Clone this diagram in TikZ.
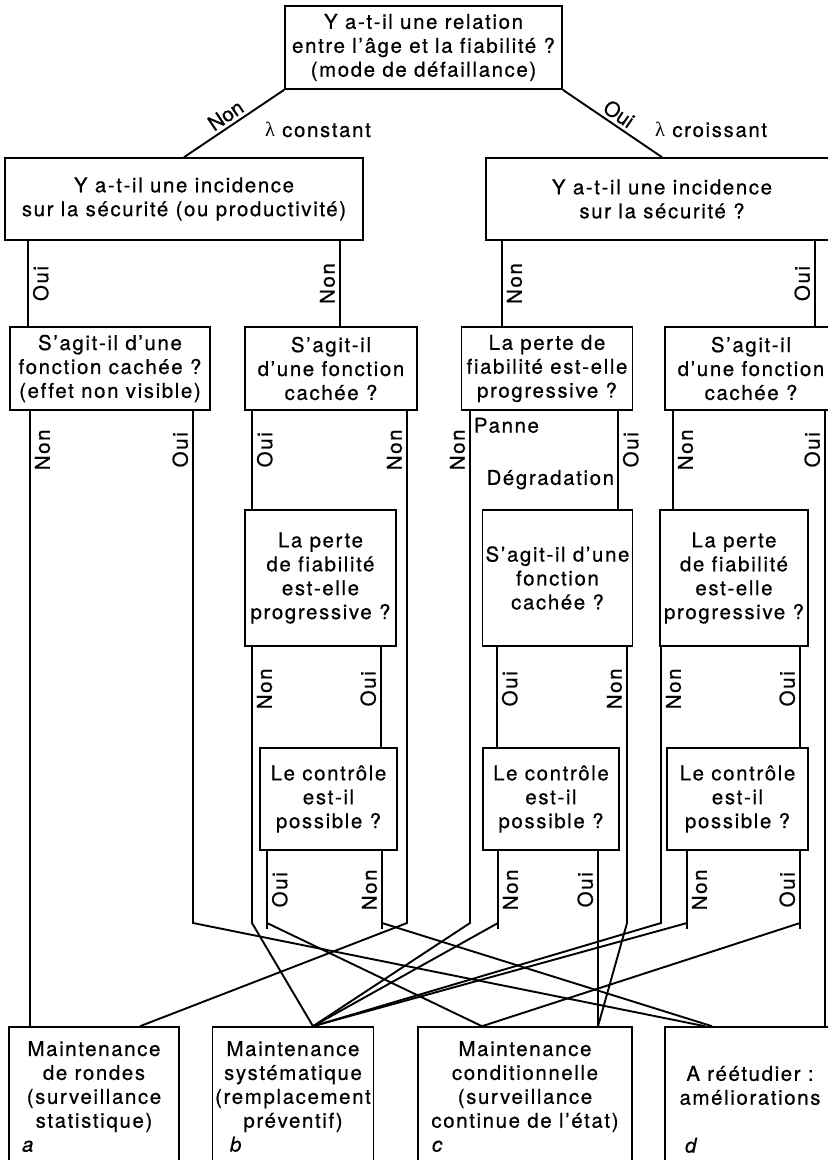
\documentclass[tikz,border=0pt]{standalone}
\usepackage{fontspec}
\setmainfont[LetterSpace=8,Ligatures=NoCommon,FakeBold=0.6]{TeX Gyre Heros}
\newfontfamily\grec{Liberation Serif}
\newfontfamily\penche[FakeBold=0.6]{TeX Gyre Heros}
\usepackage{tikz}

\newcommand{\lettre}[2]{\makebox[#1][l]{\itshape #2}}

\begin{document}
\begin{tikzpicture}[x=1bp, y=-1bp, line width=1.9bp,
  every node/.style={font=\fontsize{20.5}{24}\selectfont},
  boite/.style={draw, line width=1.6bp, align=center, inner sep=0pt},
  etiqD/.style={rotate=90, anchor=north, inner sep=4bp},
  etiqG/.style={rotate=90, anchor=south, inner sep=4bp},
  etiqP/.style={sloped, above, inner sep=3bp, font=\fontsize{20.5}{24}\penche}]
\useasboundingbox (0,0) rectangle (828,1160);
\clip (0,0) rectangle (828,1160);
\coordinate (coude) at (0,923);

% questions
\node[boite, minimum width=277bp, minimum height=83bp] (q1) at (423.5,47.5)
  {Y a-t-il une relation\\entre l’âge et la fiabilité ?\\(mode de défaillance)};
\node[boite, minimum width=358bp, minimum height=82bp] (q2n) at (184,199)
  {Y a-t-il une incidence\\sur la sécurité (ou productivité)};
\node[boite, minimum width=352bp, minimum height=82bp] (q2o) at (662,199)
  {Y a-t-il une incidence\\sur la sécurité ?};
\node[boite, minimum width=200bp, minimum height=83bp] (q3a) at (110,368.5)
  {S’agit-il d’une\\fonction cachée ?\\(effet non visible)};
\node[boite, minimum width=172bp, minimum height=83bp] (q3b) at (331,368.5)
  {S’agit-il\\d’une fonction\\cachée ?};
\node[boite, minimum width=171bp, minimum height=83bp] (q3c) at (547,368.5)
  {La perte de\\fiabilité est-elle\\progressive ?};
\node[boite, minimum width=172bp, minimum height=83bp] (q3d) at (751,368.5)
  {S’agit-il\\d’une fonction\\cachée ?};
\node[boite, minimum width=151bp, minimum height=136bp] (q4b) at (320.5,578)
  {La perte\\de fiabilité\\est-elle\\progressive ?};
\node[boite, minimum width=150bp, minimum height=136bp] (q4c) at (557.5,578)
  {S’agit-il d’une\\fonction\\cachée ?};
\node[boite, minimum width=148bp, minimum height=136bp] (q4d) at (734,578)
  {La perte\\de fiabilité\\est-elle\\progressive ?};
\node[boite, minimum width=137bp, minimum height=102bp] (k2) at (328.5,799)
  {Le contrôle\\est-il\\possible ?};
\node[boite, minimum width=136bp, minimum height=102bp] (k3) at (551,799)
  {Le contrôle\\est-il\\possible ?};
\node[boite, minimum width=141bp, minimum height=102bp] (k4) at (737.5,799)
  {Le contrôle\\est-il\\possible ?};

% maintenances
\node[boite, minimum width=170bp, minimum height=139bp] (ma) at (94,1096.5)
  {Maintenance\\de rondes\\(surveillance\\statistique)\\\lettre{144bp}{a}};
\node[boite, minimum width=161bp, minimum height=139bp] (mb) at (293,1096.5)
  {Maintenance\\systématique\\(remplacement\\préventif)\\\lettre{126bp}{b}};
\node[boite, minimum width=214bp, minimum height=139bp] (mc) at (525,1096.5)
  {Maintenance\\conditionnelle\\(surveillance\\continue de l’état)\\\lettre{186bp}{c}};
\node[boite, minimum width=170bp, minimum height=139bp] (md) at (750,1096.5)
  {\strut\\A réétudier :\\améliorations\\\strut\\\lettre{130bp}{d}};

% age et fiabilite
\draw (q1.south west) -- node[pos=0.52, etiqP] {Non}
  node[pos=0.7, anchor=base west, inner sep=0pt, xshift=50bp] {{\grec λ} constant} (q2n.north);
\draw (q1.south east) -- node[pos=0.5, etiqP] {Oui}
  node[pos=0.7, anchor=base west, inner sep=0pt, xshift=22bp] {{\grec λ} croissant} (q2o.north);

% incidence
\draw (28,0 |- q2n.south) -- node[etiqD] {Oui} (28,0 |- q3a.north);
\draw (340,0 |- q2n.south) -- node[etiqG] {Non} (340,0 |- q3b.north);
\draw (502,0 |- q2o.south) -- node[etiqD] {Non} (502,0 |- q3c.north);
\draw (815,0 |- q2o.south) -- node[etiqG] {Oui} (815,0 |- q3d.north);

% troisieme rang
\draw (30,0 |- q3a.south) -- node[etiqD] {Non} ++(0,78) -- (30,0 |- ma.north);
\draw (193,0 |- q3a.south) -- node[etiqG] {Oui} ++(0,78) -- (193,0 |- coude) -- (705,0 |- md.north);
\draw (252,0 |- q3b.south) -- node[etiqD] {Oui} ++(0,78) -- (252,0 |- q4b.north);
\draw (407,0 |- q3b.south) -- node[etiqG] {Non} ++(0,78) -- (407,0 |- coude) -- (140,0 |- ma.north);
\draw (470,0 |- q3c.south) -- node[etiqG] {Non}
  node[pos=0.28, anchor=base west, inner sep=0pt, xshift=3bp] {Panne} ++(0,78)
  -- (470,0 |- coude) -- (313,0 |- mb.north);
\draw (618,0 |- q3c.south) -- node[etiqD] {Oui}
  node[pos=0.95, anchor=base east, inner sep=0pt, xshift=-3bp] {Dégradation} ++(0,78)
  -- (618,0 |- q4c.north);
\draw (673,0 |- q3d.south) -- node[etiqD] {Non} ++(0,78) -- (673,0 |- q4d.north);
\draw (825,0 |- q3d.south) -- node[etiqG] {Oui} ++(0,78) -- (825,0 |- md.north);

% perte progressive / fonction cachee
\draw (252,0 |- q4b.south) -- node[etiqD] {Non} ++(0,84) -- (252,0 |- coude) -- (313,0 |- mb.north);
\draw (381,0 |- q4b.south) -- node[etiqG] {Oui} ++(0,84) -- (381,0 |- k2.north);
\draw (497,0 |- q4c.south) -- node[etiqD] {Oui} ++(0,84) -- (497,0 |- k3.north);
\draw (627,0 |- q4c.south) -- node[etiqG] {Non} ++(0,84) -- (627,0 |- coude) -- (598,0 |- mc.north);
\draw (661,0 |- q4d.south) -- node[etiqD] {Non} ++(0,84) -- (661,0 |- coude) -- (313,0 |- mb.north);
\draw (800,0 |- q4d.south) -- node[etiqG] {Oui} ++(0,84) -- (800,0 |- k4.north);

% controle possible
\draw (267,0 |- k2.south) -- node[etiqD] {Oui} ++(0,78) -- (267,0 |- coude) -- (482,0 |- mc.north);
\draw (382,0 |- k2.south) -- node[etiqG] {Non} ++(0,78) -- (382,0 |- coude) -- (712,0 |- md.north);
\draw (498,0 |- k3.south) -- node[etiqD] {Non} ++(0,78) -- (498,0 |- coude) -- (313,0 |- mb.north);
\draw (598,0 |- k3.south) -- node[etiqG] {Oui} ++(0,78) -- (598,0 |- mc.north);
\draw (687,0 |- k4.south) -- node[etiqD] {Non} ++(0,78) -- (687,0 |- coude) -- (313,0 |- mb.north);
\draw (800,0 |- k4.south) -- node[etiqG] {Oui} ++(0,78) -- (800,0 |- coude) -- (482,0 |- mc.north);
\end{tikzpicture}
\end{document}
